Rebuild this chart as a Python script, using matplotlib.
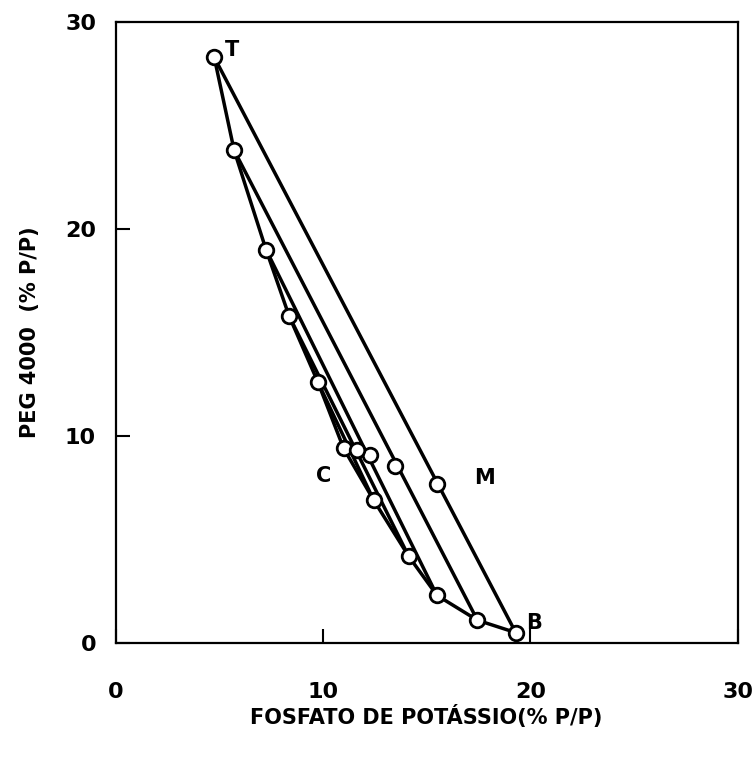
import matplotlib
matplotlib.use("Agg")
import matplotlib.pyplot as plt

# Binodal curve: potassium phosphate (% w/w) vs PEG 4000 (% w/w)
binodal_x = [4.76, 5.72, 7.26, 8.37, 9.76, 11.0, 12.45, 14.13, 15.5, 17.45, 19.3]
binodal_y = [28.3, 23.8, 19.0, 15.8, 12.6, 9.4, 6.9, 4.2, 2.3, 1.1, 0.5]

# Tie lines: top phase -> bottom phase
tie_top_x = [4.76, 5.72, 7.26, 8.37, 9.76]
tie_top_y = [28.3, 23.8, 19.0, 15.8, 12.6]
tie_bot_x = [19.3, 17.45, 15.5, 14.13, 12.45]
tie_bot_y = [0.5, 1.1, 2.3, 4.2, 6.9]

# Overall system compositions on the tie lines
mix_x = [15.5, 13.46, 12.26, 11.63]
mix_y = [7.7, 8.55, 9.1, 9.3]

# Point labels
point_labels = ["T", "M", "C", "B"]
label_x = [5.6, 17.8, 10.05, 20.2]
label_y = [28.65, 7.95, 8.05, 0.95]

fig = plt.figure(figsize=(7.55, 7.60), dpi=100)
ax = fig.add_axes([0.153, 0.154, 0.824, 0.817])

lw = 2.5
for x0, y0, x1, y1 in zip(tie_top_x, tie_top_y, tie_bot_x, tie_bot_y):
    ax.plot([x0, x1], [y0, y1], color="black", lw=lw, solid_capstyle="round", zorder=2)
ax.plot(binodal_x, binodal_y, color="black", lw=lw, zorder=2)

mk = dict(marker="o", ms=10.5, mfc="white", mec="black", mew=2.0, ls="none", zorder=3)
ax.plot(binodal_x, binodal_y, **mk)
ax.plot(mix_x, mix_y, **mk)

for t, x, y in zip(point_labels, label_x, label_y):
    ax.text(x, y, t, fontsize=15, fontweight="bold", ha="center", va="center",
            family="DejaVu Sans")

ax.set_xlim(0, 30)
ax.set_ylim(0, 30)
ax.set_xticks([0, 10, 20, 30])
ax.set_yticks([0, 10, 20, 30])
ax.tick_params(direction="in", length=10, width=1.5, labelsize=16, pad=0)
ax.tick_params(axis="x", pad=28)
ax.tick_params(axis="y", pad=14)
for lab in ax.get_xticklabels() + ax.get_yticklabels():
    lab.set_fontweight("bold")
for s in ax.spines.values():
    s.set_linewidth(1.6)

ax.set_xlabel("FOSFATO DE POTÁSSIO(% P/P)", fontsize=15, fontweight="bold", labelpad=2)
ax.set_ylabel("PEG 4000  (% P/P)", fontsize=15, fontweight="bold", labelpad=18)

fig.savefig("out.png", dpi=100)
